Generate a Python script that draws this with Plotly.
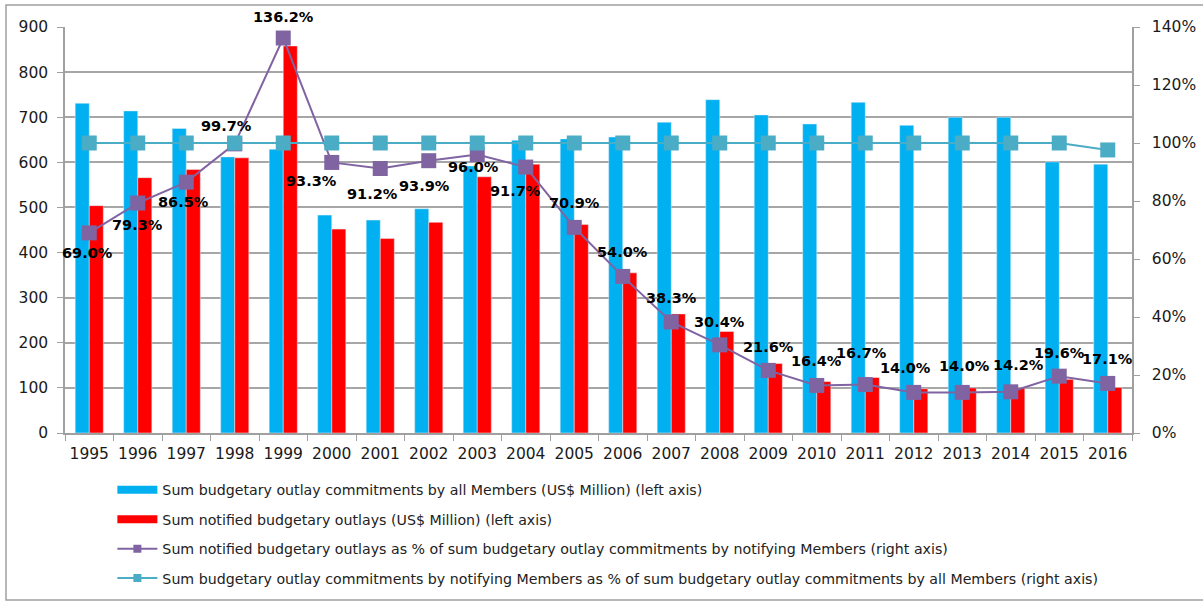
import plotly.graph_objects as go

years = [str(y) for y in range(1995, 2017)]

# US$ Million, left axis
commit_all = [731, 714, 675, 612, 629, 483, 472, 497, 592, 649, 652,
              656, 689, 739, 705, 685, 733, 682, 700, 700, 601, 596]
notified = [504, 566, 584, 610, 858, 452, 431, 467, 568, 596, 462,
            355, 264, 225, 154, 114, 123, 98, 100, 100, 119, 101]

# shares, right axis
notified_pct = [69.0, 79.3, 86.5, 99.7, 136.2, 93.3, 91.2, 93.9, 96.0, 91.7, 70.9,
                54.0, 38.3, 30.4, 21.6, 16.4, 16.7, 14.0, 14.0, 14.2, 19.6, 17.1]
notifying_share_pct = [100, 100, 100, 100, 100, 100, 100, 100, 100, 100, 100,
                       100, 100, 100, 100, 100, 100, 100, 100, 100, 100, 97.6]

# label offsets (px) for the notified-% data labels
label_dx = [-2, 0, -3, -8, 0, -20, -8, -4, -4, -10, 0, 0, 0, 0, 0, 0, -4, -8, 2, 8, 0, 0]
label_dy = [-20, -22, -20, 18, 21, -19, -25, -25, -12, -24, 24, 24, 24, 23, 23, 24, 32, 24, 26, 27, 23, 24]

names = [
    "Sum budgetary outlay commitments by all Members (US$ Million) (left axis)",
    "Sum notified budgetary outlays (US$ Million) (left axis)",
    "Sum notified budgetary outlays as % of sum budgetary outlay commitments by notifying Members (right axis)",
    "Sum budgetary outlay commitments by notifying Members as % of sum budgetary outlay commitments by all Members (right axis)",
]
BLUE, RED, PURPLE, TEAL = "#00B0F0", "#FF0000", "#8064A2", "#4BACC6"

fig = go.Figure()
fig.add_trace(go.Bar(x=years, y=commit_all, name=names[0], marker_color=BLUE,
                     showlegend=False))
fig.add_trace(go.Bar(x=years, y=notified, name=names[1], marker_color=RED,
                     showlegend=False))
fig.add_trace(go.Scatter(x=years, y=[v / 100 for v in notified_pct], name=names[2],
                         yaxis="y2", mode="lines+markers", showlegend=False,
                         line=dict(color=PURPLE, width=2),
                         marker=dict(symbol="square", size=15, color=PURPLE)))
fig.add_trace(go.Scatter(x=years, y=[v / 100 for v in notifying_share_pct], name=names[3],
                         yaxis="y2", mode="lines+markers", showlegend=False,
                         line=dict(color=TEAL, width=2),
                         marker=dict(symbol="square", size=15, color=TEAL)))

# legend keys: wide swatches for the bars, thin line with small marker for the lines
legend_keys = [
    (names[0], BLUE, "lines", 8),
    (names[1], RED, "lines", 8),
    (names[2], PURPLE, "lines+markers", 2),
    (names[3], TEAL, "lines+markers", 2),
]
for k, (nm, col, mode, w) in enumerate(legend_keys):
    fig.add_trace(go.Scatter(x=[None], y=[None], name=nm, mode=mode,
                             legendgroup=f"g{k}",
                             line=dict(color=col, width=w),
                             marker=dict(symbol="square", size=8, color=col)))

# data labels, positioned by category index on the categorical x axis
for i, (v, dx, dy) in enumerate(zip(notified_pct, label_dx, label_dy)):
    fig.add_annotation(x=i, y=v / 100, xref="x", yref="y2", text=f"{v:.1f}%",
                       showarrow=False, xshift=dx, yshift=dy,
                       font=dict(family="DejaVu Sans", size=14.5, color="#000000",
                                 weight="bold"))

# outer chart frame (open on the right)
fig.add_shape(type="rect", xref="paper", yref="paper", layer="below",
              x0=-59 / 1067, x1=1150 / 1067, y0=-167 / 406, y1=428 / 406,
              line=dict(color="#A0A0A0", width=1.5))

tick_font = dict(family="DejaVu Sans", size=15.5, color="#1a1a1a")
fig.update_layout(
    width=1203, height=601,
    margin=dict(l=65, r=71, t=27, b=168, autoexpand=False),
    paper_bgcolor="white", plot_bgcolor="white",
    barmode="group", bargap=0.42, bargroupgap=0,
    font=dict(family="DejaVu Sans", color="#222222"),
    xaxis=dict(type="category", tickfont=tick_font, showgrid=False, tickangle=0,
               range=[-0.5, len(years) - 0.5], ticklabelstandoff=6,
               showline=True, linecolor="#A0A0A0", linewidth=1.5,
               ticks="outside", ticklen=6, tickcolor="#A0A0A0", tickson="boundaries"),
    yaxis=dict(range=[0, 900], dtick=100, tickfont=tick_font, ticklabelstandoff=6,
               showgrid=True, gridcolor="#A6A6A6", gridwidth=1.5,
               showline=True, linecolor="#A0A0A0", linewidth=1.5,
               ticks="outside", ticklen=6, tickcolor="#A0A0A0", zeroline=False),
    yaxis2=dict(range=[0, 1.4], dtick=0.2, tickformat=".0%", tickfont=tick_font,
                ticklabelstandoff=9,
                overlaying="y", side="right", showgrid=False,
                showline=True, linecolor="#A0A0A0", linewidth=1.5,
                ticks="outside", ticklen=6, tickcolor="#A0A0A0", zeroline=False),
    legend=dict(x=0.0444, y=-0.101, xanchor="left", yanchor="top",
                font=dict(family="DejaVu Sans", size=14.2, color="#222222"),
                tracegroupgap=8, itemsizing="trace", itemwidth=40,
                bgcolor="rgba(0,0,0,0)"),
    showlegend=True,
)

fig.write_html("out.html")
